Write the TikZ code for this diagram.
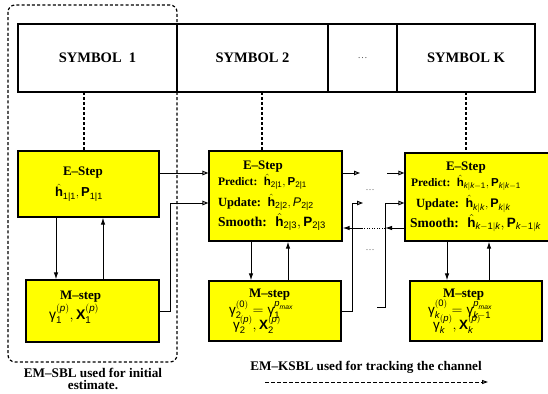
\documentclass[tikz,border=0pt]{standalone}
\usepackage{amsmath}
\usepackage{fontspec}
\setmainfont{Liberation Serif}
\setsansfont{Liberation Sans}
\usetikzlibrary{positioning, arrows.meta, calc}
\definecolor{stepCol}{HTML}{FFFF00}
\definecolor{gapCol}{HTML}{555555}
% sans (Helvetica-like) pieces for the estimates
\newcommand{\hvb}[1]{\text{\sffamily\bfseries\upshape #1}}
\newcommand{\hvu}[1]{\text{\sffamily\mdseries\upshape #1}}
\newcommand{\hvi}[1]{\text{\sffamily\mdseries\itshape #1}}
\newcommand{\hvh}{\hat{\hvb{h}}}
\newcommand{\hvg}{\text{\sffamily\mdseries\upshape γ}}
\newcommand{\pmx}{\hvi{p}_{\hvi{max}}}

\begin{document}
\begin{tikzpicture}[x=1pt, y=-1pt,
    % Node styles
    symbox/.style={
        rectangle,
        draw=black,
        line width=1.3pt,
        outer sep=0pt,
        inner sep=0pt,
        minimum height=68pt,
        minimum width=#1,
        font=\bfseries\fontsize{14.5}{15}\selectfont
    },
    stepbox/.style={
        rectangle,
        draw=black,
        fill=stepCol,
        line width=1.2pt,
        inner xsep=4pt,
        inner ysep=2pt,
        align=left,
        execute at begin node={\lineskiplimit=-30pt\relax},
        font=\bfseries\fontsize{13}{20}\selectfont
    },
    gapdots/.style={
        font=\fontsize{9}{9}\selectfont,
        text=gapCol
    },
    caption/.style={
        font=\bfseries\fontsize{13.2}{12.5}\selectfont,
        align=center
    },
    arrow/.style={
        -{Latex[length=7pt,width=4.5pt]},
        line width=1pt
    },
    openarrow/.style={
        -{Triangle[open,length=6pt,width=4.5pt]},
        line width=1pt
    },
    symlink/.style={
        line width=2.2pt,
        dash pattern=on 3pt off 2pt
    },
    initframe/.style={
        line width=1.2pt,
        dash pattern=on 3pt off 2.2pt,
        rounded corners=7pt
    },
    trackarrow/.style={
        -{Triangle[open,length=6pt,width=4pt]},
        line width=1pt,
        dash pattern=on 4pt off 2pt
    }
]
    \useasboundingbox (0,0) rectangle (548,393);

    % ==== SYMBOL ROW ====
    \node[symbox=159pt] (sym1) at (97.5,58) {SYMBOL~~1};
    \node[symbox=151pt, right=0pt of sym1] (sym2) {SYMBOL 2};
    \node[symbox=69pt, right=0pt of sym2, font=\fontsize{10}{10}\selectfont, text=gapCol] (symdots) {\dots};
    \node[symbox=138pt, right=0pt of symdots] (symK) {SYMBOL K};

    % EM-SBL frame round the first symbol
    \draw[initframe] (8,5) rectangle (177,362);

    % ==== E-STEPS ====
    \node[stepbox, text width=133pt, minimum height=66pt] (E1) at (88.5,184)
        {\hspace*{41pt}E--Step\\[1pt]
         \hspace*{33pt}$\hvh_{\hvu{1|1}}, \hvb{P}_{\hvu{1|1}}$};
    \node[stepbox, text width=125pt, minimum height=90pt] (E2) at (275.5,196)
        {\hspace*{30pt}E--Step\\[-4pt]
         \hspace*{5pt}{\fontsize{11.5}{14}\selectfont Predict: $\hvh_{\hvu{2|1}}, \hvb{P}_{\hvu{2|1}}$}\\[1pt]
         \hspace*{5pt}{\fontsize{12.5}{14}\selectfont Update: $\hvh_{\hvu{2|2}}, \hvi{P}_{\hvu{2|2}}$}\\
         \hspace*{5pt}{\fontsize{13.5}{14}\selectfont Smooth:\ \ $\hvh_{\hvu{2|3}}, \hvb{P}_{\hvu{2|3}}$}};
    \node[stepbox, text width=142pt, minimum height=88pt] (EK) at (480,197)
        {\hspace*{37pt}E--Step\\[-4pt]
         \hspace*{2pt}{\fontsize{11.5}{14}\selectfont Predict: $\hvh_{\hvi{k}|\hvi{k}-\hvu{1}}, \hvb{P}_{\hvi{k}|\hvi{k}-\hvu{1}}$}\\[1pt]
         \hspace*{7pt}{\fontsize{12.5}{14}\selectfont Update: $\hvh_{\hvi{k}|\hvi{k}}, \hvb{P}_{\hvi{k}|\hvi{k}}$}\\
         \hspace*{1pt}{\fontsize{13.5}{14}\selectfont Smooth:\ \ $\hvh_{\hvi{k}-\hvu{1}|\hvi{k}}, \hvb{P}_{\hvi{k}-\hvu{1}|\hvi{k}}$}};

    % ==== M-STEPS ====
    \node[stepbox, text width=125pt, minimum height=62pt] (M1) at (92.5,311)
        {\hspace*{30pt}M--step\\[0pt]
         \hspace*{19pt}{\fontsize{14}{14}\selectfont$\hvg_{\hvu{1}}^{(\hvi{p})}, \hvb{X}_{\hvu{1}}^{(\hvi{p})}$}\\[-8pt]~};
    \node[stepbox, text width=124pt, minimum height=60pt] (M2) at (275,311)
        {\hspace*{36pt}M--step\\[-3pt]
         \hspace*{16pt}{\fontsize{13.5}{14}\selectfont$\hvg_{\hvu{2}}^{(\hvu{0})} = \hvg_{\hvu{1}}^{\pmx}$}\\[-5pt]
         \hspace*{20pt}{\fontsize{13.5}{14}\selectfont$\hvg_{\hvu{2}}^{(\hvi{p})}, \hvb{X}_{\hvu{2}}^{(\hvi{p})}$}};
    \node[stepbox, text width=124pt, minimum height=60pt] (MK) at (476,311)
        {\hspace*{29pt}M--step\\[-3pt]
         \hspace*{14pt}{\fontsize{13.5}{14}\selectfont$\hvg_{\hvi{k}}^{(\hvu{0})} = \hvg_{\hvi{k}-\hvu{1}}^{\pmx}$}\\[-5pt]
         \hspace*{19pt}{\fontsize{13.5}{14}\selectfont$\hvg_{\hvi{k}}^{(\hvi{p})}, \hvb{X}_{\hvi{k}}^{(\hvi{p})}$}};

    % ==== GUIDE COORDINATES ====
    \coordinate (t1) at (84,0);
    \coordinate (t2) at (262,0);
    \coordinate (tK) at (466,0);
    \coordinate (c1d) at (56,0);
    \coordinate (c1u) at (103,0);
    \coordinate (c2d) at (251,0);
    \coordinate (c2u) at (288,0);
    \coordinate (cKd) at (447,0);
    \coordinate (cKu) at (489,0);
    \coordinate (rowP) at (0,173);
    \coordinate (rowU) at (0,203);
    \coordinate (rowS) at (0,228);
    \coordinate (gapP1) at (360,173);
    \coordinate (gapP2) at (387,173);
    \coordinate (gapU1) at (363,203);
    \coordinate (gapU2) at (377,307);
    \coordinate (gapS1) at (362,228);
    \coordinate (gapS2) at (385,228);
    \coordinate (trkA) at (265,382);
    \coordinate (trkB) at (488,382);

    % ==== CONNECTIONS ====

    % Symbols -> E-steps
    \draw[symlink] (sym1.south -| t1) -- (E1.north -| t1);
    \draw[symlink] (sym2.south -| t2) -- (E2.north -| t2);
    \draw[symlink] (symK.south -| tK) -- (EK.north -| tK);

    % E-step <-> M-step
    \draw[arrow] (E1.south -| c1d) -- (M1.north -| c1d);
    \draw[arrow] (M1.north -| c1u) -- (E1.south -| c1u);
    \draw[arrow] (E2.south -| c2d) -- (M2.north -| c2d);
    \draw[arrow] (M2.north -| c2u) -- (E2.south -| c2u);
    \draw[arrow] (EK.south -| cKd) -- (MK.north -| cKd);
    \draw[arrow] (MK.north -| cKu) -- (EK.south -| cKu);

    % Predict inputs
    \draw[openarrow] (E1.east |- rowP) -- (E2.west |- rowP);
    \draw[openarrow] (E2.east |- rowP) -- (gapP1);
    \draw[openarrow] (gapP2) -- (EK.west |- rowP);

    % Update inputs
    \draw[openarrow] (M1.east) -- ++(11,0) |- (E2.west |- rowU);
    \draw[openarrow] (M2.east) -- ++(11,0) |- (gapU1);
    \draw[openarrow] (gapU2) -- ++(8,0) |- (EK.west |- rowU);

    % Smoothing goes backwards
    \draw[arrow] (EK.west |- rowS) -- (gapS2);
    \draw[line width=1pt, dash pattern=on 1pt off 1.5pt] (gapS2) -- (gapS1);
    \draw[arrow] (gapS1) -- (E2.east |- rowS);

    \node[gapdots] (dotsP) at (370,190) {\dots};
    \node[gapdots] (dotsS) at (370,250) {\dots};

    % ==== CAPTIONS ====
    \node[caption] (initlab) at (93,379) {EM--SBL used for initial\\estimate.};
    \node[caption] (tracklab) at (366,367) {EM--KSBL used for tracking the channel};
    \draw[trackarrow] (trkA) -- (trkB);

\end{tikzpicture}
\end{document}
